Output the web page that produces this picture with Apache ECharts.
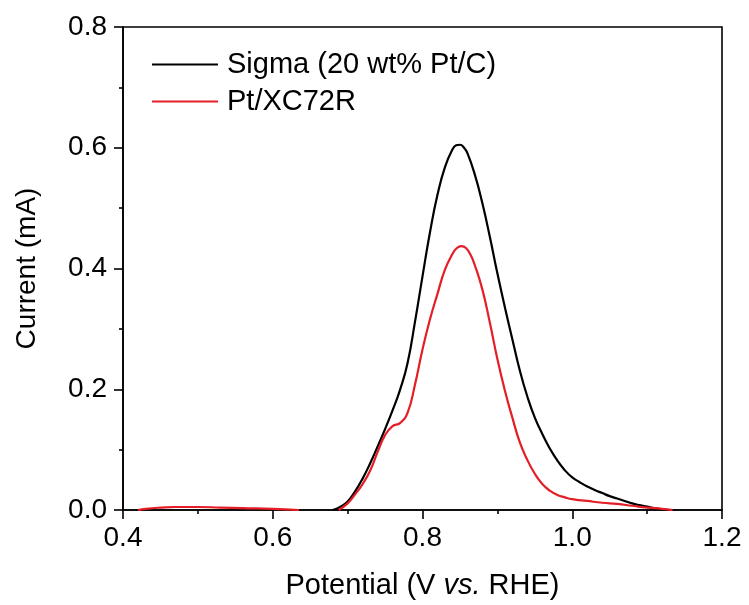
<!DOCTYPE html>
<html>
<head>
<meta charset="utf-8">
<script src="https://cdn.jsdelivr.net/npm/echarts@6/dist/echarts.min.js"></script>
<style>
html,body{margin:0;padding:0;background:#fff;}
#chart{width:749px;height:605px;}
</style>
</head>
<body>
<div id="chart"></div>
<script>
const seriesNames = ['Sigma (20 wt% Pt/C)', 'Pt/XC72R'];
const seriesColors = ['#000000', '#e41e26'];

// Sigma (20 wt% Pt/C): potential (V vs. RHE), current (mA)
const sigmaX = [0.680,0.690,0.700,0.710,0.720,0.730,0.740,0.750,0.760,0.770,0.780,0.790,0.800,0.810,0.820,0.830,0.840,0.845,0.850,0.855,0.860,0.870,0.880,0.890,0.900,0.910,0.920,0.930,0.940,0.950,0.960,0.970,0.980,0.990,1.000,1.010,1.020,1.030,1.040,1.050,1.060,1.070,1.080,1.090,1.100,1.110,1.120,1.128];
const sigmaY = [0.000,0.005,0.014,0.031,0.052,0.077,0.105,0.134,0.165,0.199,0.243,0.312,0.387,0.460,0.522,0.568,0.597,0.604,0.605,0.601,0.591,0.555,0.508,0.452,0.392,0.336,0.283,0.231,0.188,0.153,0.126,0.102,0.082,0.066,0.054,0.046,0.039,0.033,0.028,0.023,0.019,0.015,0.011,0.008,0.0055,0.003,0.001,0.000];

// Pt/XC72R: low-potential segment and main peak
const ptLowX = [0.420,0.430,0.450,0.470,0.500,0.530,0.560,0.600,0.635];
const ptLowY = [0.000,0.002,0.004,0.005,0.005,0.004,0.003,0.002,0.000];
const ptX = [0.688,0.700,0.710,0.720,0.730,0.740,0.750,0.760,0.770,0.780,0.790,0.800,0.810,0.820,0.830,0.840,0.846,0.852,0.858,0.864,0.870,0.880,0.890,0.900,0.910,0.920,0.930,0.940,0.950,0.960,0.970,0.980,0.990,1.000,1.020,1.040,1.060,1.080,1.100,1.120,1.134];
const ptY = [0.000,0.011,0.026,0.043,0.065,0.096,0.124,0.139,0.144,0.161,0.208,0.266,0.316,0.358,0.398,0.424,0.434,0.437,0.434,0.423,0.405,0.365,0.310,0.250,0.198,0.153,0.112,0.083,0.060,0.043,0.032,0.025,0.021,0.018,0.015,0.012,0.010,0.007,0.004,0.002,0.000];

const xTicks = {min: 0.4, max: 1.2, interval: 0.2};
const yTicks = {min: 0.0, max: 0.8, interval: 0.2};

const zip = (xs, ys) => xs.map((x, i) => [x, ys[i]]);
const ptData = zip(ptLowX, ptLowY).concat([[0.66, null]]).concat(zip(ptX, ptY));

const FONT = 'Liberation Sans, Arial, sans-serif';
const chart = echarts.init(document.getElementById('chart'), null, {renderer: 'canvas'});
chart.setOption({
  animation: false,
  backgroundColor: '#ffffff',
  grid: {left: 123, right: 27, top: 27, bottom: 95, show: true, borderColor: '#000', borderWidth: 1.6, backgroundColor: 'transparent'},
  legend: [
    {data: [seriesNames[0]], orient: 'vertical', left: 152, top: 50, padding: 0, itemWidth: 66, itemHeight: 2, icon: 'rect',
     textStyle: {fontFamily: FONT, fontSize: 29, color: '#000', padding: [0,0,0,4]}},
    {data: [seriesNames[1]], orient: 'vertical', left: 152, top: 87, padding: 0, itemWidth: 66, itemHeight: 2, icon: 'rect',
     textStyle: {fontFamily: FONT, fontSize: 29, color: '#000', padding: [0,0,0,4]}}
  ],
  xAxis: {
    type: 'value', min: xTicks.min, max: xTicks.max, interval: xTicks.interval,
    name: 'Potential (V {i|vs.} RHE)', nameLocation: 'middle', nameGap: 61,
    nameTextStyle: {fontFamily: FONT, fontSize: 29, color: '#000',
      rich: {i: {fontFamily: FONT, fontSize: 29, fontStyle: 'italic', color: '#000'}}},
    axisLine: {show: true, onZero: false, lineStyle: {color: '#000', width: 1.6}},
    axisTick: {show: true, inside: false, length: 9, lineStyle: {color: '#000', width: 1.6}},
    minorTick: {show: true, splitNumber: 2, length: 4, lineStyle: {color: '#000', width: 1.6}},
    splitLine: {show: false},
    axisLabel: {fontFamily: FONT, fontSize: 28, color: '#000', margin: 14, formatter: v => v.toFixed(1)}
  },
  yAxis: {
    type: 'value', min: yTicks.min, max: yTicks.max, interval: yTicks.interval,
    name: 'Current (mA)', nameLocation: 'middle', nameGap: 82,
    nameTextStyle: {fontFamily: FONT, fontSize: 28, color: '#000'},
    axisLine: {show: true, onZero: false, lineStyle: {color: '#000', width: 1.6}},
    axisTick: {show: true, inside: false, length: 9, lineStyle: {color: '#000', width: 1.6}},
    minorTick: {show: true, splitNumber: 2, length: 4, lineStyle: {color: '#000', width: 1.6}},
    splitLine: {show: false},
    axisLabel: {fontFamily: FONT, fontSize: 28, color: '#000', margin: 16, formatter: v => v.toFixed(1)}
  },
  series: [
    {name: seriesNames[0], type: 'line', data: zip(sigmaX, sigmaY), showSymbol: false, smooth: 0.5,
     lineStyle: {color: seriesColors[0], width: 2.2}, itemStyle: {color: seriesColors[0]}, z: 3},
    {name: seriesNames[1], type: 'line', data: ptData, showSymbol: false, smooth: 0.5, connectNulls: false,
     lineStyle: {color: seriesColors[1], width: 2.2}, itemStyle: {color: seriesColors[1]}, z: 4}
  ]
});
</script>
</body>
</html>
